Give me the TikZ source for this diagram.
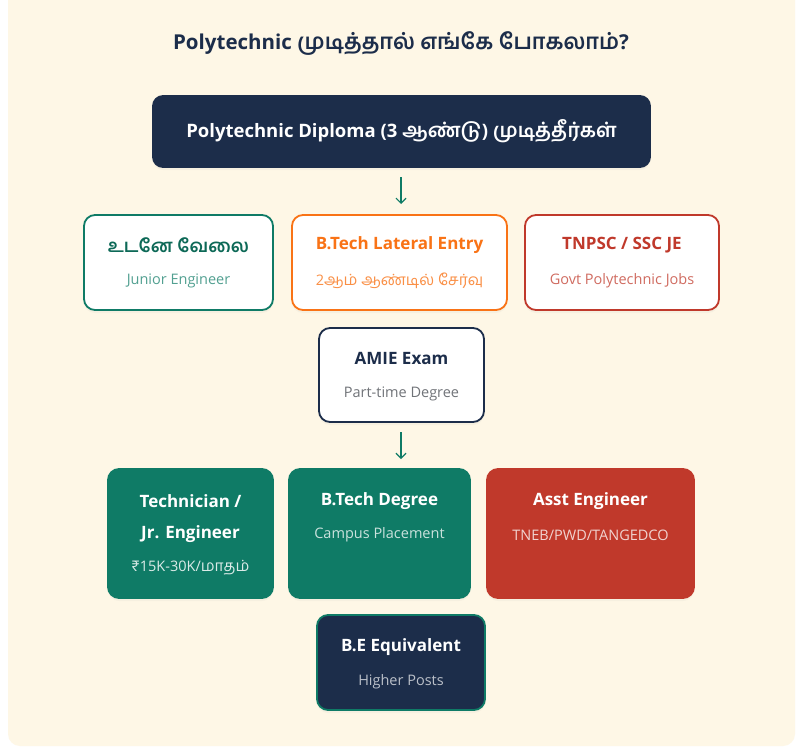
\documentclass[tikz,border=0pt]{standalone}
\usepackage{fontspec}
\setmainfont{Open Sans}
\newfontfamily\tamil[Script=Tamil,Scale=1.07]{Hind Madurai}
\newcommand{\ta}[1]{{\tamil #1}}
\usetikzlibrary{arrows.meta,shadows}
\definecolor{bgcream}{HTML}{FEF7E6}
\definecolor{navy}{HTML}{1C2D4A}
\definecolor{tealc}{HTML}{0F7B66}
\definecolor{orangec}{HTML}{F97316}
\definecolor{redc}{HTML}{C0392B}
\begin{document}
\begin{tikzpicture}[x=1pt,y=-1pt,
  box/.style={rectangle,rounded corners=11pt,inner sep=0pt,line width=1.8pt,
    drop shadow={opacity=0.06,shadow xshift=0pt,shadow yshift=-3pt}},
  ttl/.style={font=\fontsize{17}{20}\selectfont\bfseries,inner sep=0pt,anchor=center},
  sub/.style={font=\fontsize{14.5}{17}\selectfont,inner sep=0pt,anchor=center},
  arr/.style={draw=tealc,line width=1.3pt,-{Straight Barb[length=5pt,width=10pt,line width=1.2pt]}}]
\useasboundingbox (0,0) rectangle (796,747);
\fill[white] (0,0) rectangle (796,747);
\fill[bgcream,rounded corners=12pt] (8,-12) rectangle (795,746);
% title
\node[font=\fontsize{20.5}{24}\selectfont\bfseries,text=navy,inner sep=0pt] (title) at (401,44)
  {Polytechnic \ta{முடித்தால் எங்கே போகலாம்}?};
% top box
\node[box,fill=navy,draw=navy,minimum width=497pt,minimum height=71pt,rounded corners=10pt] (top) at (401.5,131.5) {};
\node[ttl,text=white,font=\fontsize{18.5}{22}\selectfont\bfseries] (topt) at (401.5,131)
  {Polytechnic Diploma (3 \ta{ஆண்டு}) \ta{முடித்தீர்கள்}};
% arrow 1
\coordinate (a1s) at (401,177);
\coordinate (a1e) at (401,204);
\draw[arr] (a1s) -- (a1e);
% row 1
\node[box,fill=white,draw=tealc,minimum width=189pt,minimum height=95pt] (ra) at (178.5,262.5) {};
\node[ttl,text=tealc!85!black] (rat) at (178.5,245) {\ta{உடனே வேலை}};
\node[sub,text=tealc!72!white] (ras) at (178.5,281) {Junior Engineer};
\node[box,fill=white,draw=orangec,minimum width=215pt,minimum height=95pt] (rb) at (399.5,262.5) {};
\node[ttl,text=orangec] (rbt) at (399.5,245) {B.Tech Lateral Entry};
\node[sub,text=orangec!80!white] (rbs) at (399.5,281) {2\ta{ஆம் ஆண்டில் சேர்வு}};
\node[box,fill=white,draw=redc,minimum width=194pt,minimum height=95pt] (rc) at (622,262.5) {};
\node[ttl,text=redc] (rct) at (622,245) {TNPSC / SSC JE};
\node[sub,text=redc!75!white] (rcs) at (622,281) {Govt Polytechnic Jobs};
% AMIE
\node[box,fill=white,draw=navy,minimum width=165pt,minimum height=94pt] (am) at (401.5,375) {};
\node[ttl,text=navy] (amt) at (401.5,358) {AMIE Exam};
\node[sub,text=gray!85!navy] (ams) at (401.5,394) {Part-time Degree};
% arrow 2
\coordinate (a2s) at (401,432);
\coordinate (a2e) at (401,459);
\draw[arr] (a2s) -- (a2e);
% row 2
\node[box,fill=tealc,draw=tealc,minimum width=165pt,minimum height=129pt] (rd) at (190.5,533.5) {};
\node[ttl,text=white] (rdt1) at (190.5,501) {Technician /};
\node[ttl,text=white] (rdt2) at (190.5,534) {Jr. Engineer};
\node[sub,text=white!85!tealc] (rds) at (190.5,568) {\ta{₹}15K-30K/\ta{மாதம்}};
\node[box,fill=tealc,draw=tealc,minimum width=181pt,minimum height=129pt] (re) at (379.5,533.5) {};
\node[ttl,text=white] (ret) at (379.5,501) {B.Tech Degree};
\node[sub,text=white!78!tealc] (res) at (379.5,535) {Campus Placement};
\node[box,fill=redc,draw=redc,minimum width=207pt,minimum height=129pt] (rf) at (590.5,533.5) {};
\node[ttl,text=white] (rft) at (590.5,501) {Asst Engineer};
\node[sub,text=white!78!redc] (rfs) at (590.5,535) {TNEB/PWD/TANGEDCO};
% B.E
\node[box,fill=navy,draw=tealc,minimum width=168pt,minimum height=95pt] (g) at (401,662.5) {};
\node[ttl,text=white] (gt) at (401,647) {B.E Equivalent};
\node[sub,text=white!70!navy] (gs) at (401,682) {Higher Posts};
\end{tikzpicture}
\end{document}
